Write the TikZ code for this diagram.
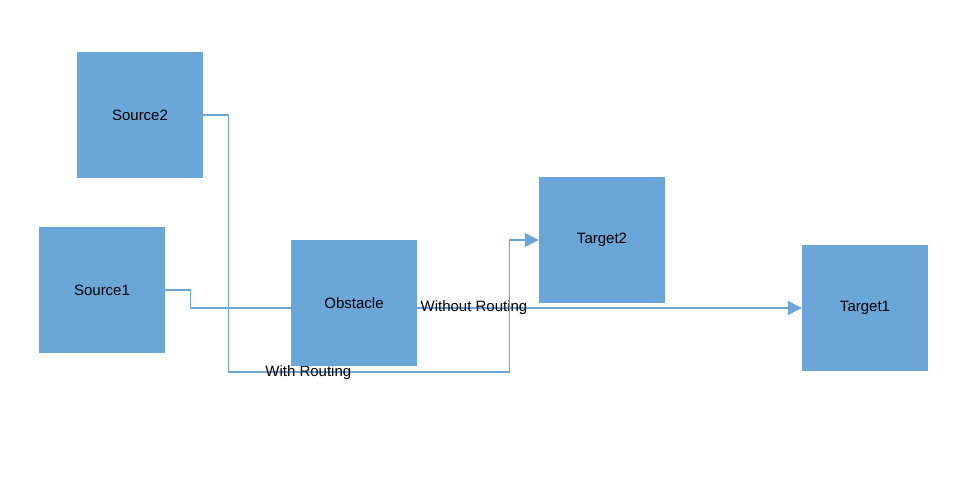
\documentclass[tikz,border=0pt]{standalone}
\usepackage{fontspec}
\setmainfont{Liberation Sans}
\usetikzlibrary{arrows.meta,backgrounds}
\definecolor{boxB}{RGB}{107,166,216}

\begin{document}
\begin{tikzpicture}[x=1pt,y=-1pt,>={Triangle[length=14pt,width=14pt]},
  box/.style={fill=boxB,minimum size=126pt,inner sep=0pt,font=\fontsize{15}{17}\selectfont},
  conn/.style={draw=boxB,line width=1.2pt},
  lbl/.style={font=\fontsize{15}{17}\selectfont,inner sep=0pt}]
\useasboundingbox (0,0) rectangle (966,502);
\node[box] (src2) at (140,115) {Source2};
\node[box] (src1) at (102,290) {Source1};
\node[box] (obst) at (354,303) {Obstacle};
\node[box] (tgt2) at (602,240) {Target2};
\node[box] (tgt1) at (865,308) {Target1};
\begin{scope}[on background layer]
\draw[conn,->] (src1.east) -- ++(25,0) -- ++(0,18) -- (tgt1.west) node[lbl,pos=0.464] (wo) {Without Routing};
\draw[conn,->] (src2.east) -- ++(25,0) -- ++(0,257) -- ++(281,0) node[lbl,pos=0.285,yshift=-1pt] (wr) {With Routing} |- (tgt2.west);
\end{scope}
\end{tikzpicture}
\end{document}
